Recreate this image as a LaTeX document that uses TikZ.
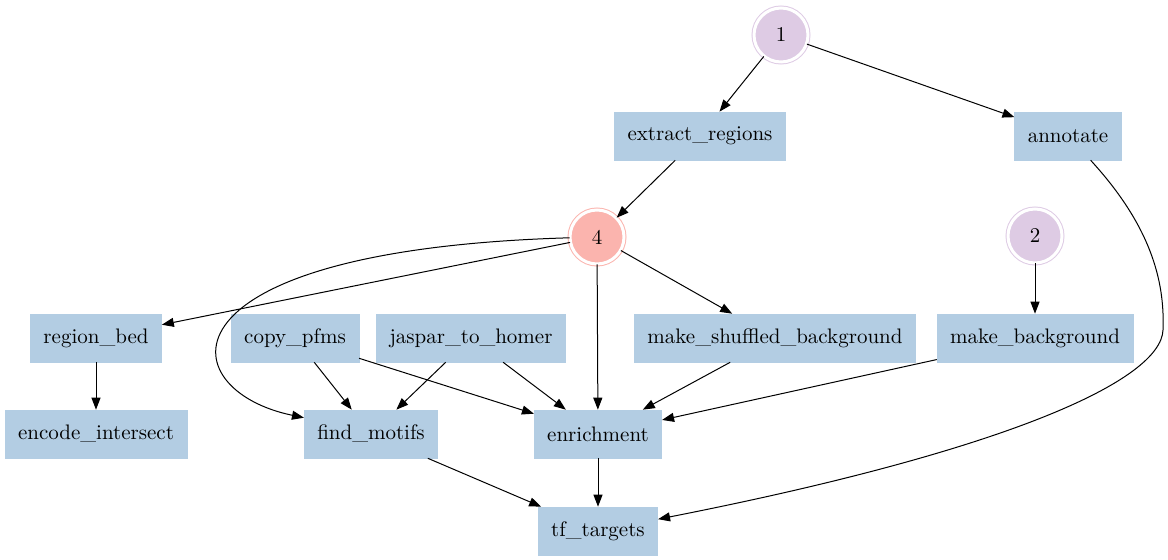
\documentclass[tikz,border=0pt]{standalone}
\usepackage{tikz}
\usetikzlibrary{arrows.meta}
\definecolor{rulefill}{HTML}{B3CDE3}
\definecolor{jobfill}{HTML}{DECBE4}
\definecolor{ckptfill}{HTML}{FBB4AE}

\begin{document}
\begin{tikzpicture}[x=0.5pt,y=-0.5pt,line width=0.5pt,
    >={Triangle[length=6pt,width=4.5pt]},
    rule/.style={rectangle,fill=rulefill,draw=rulefill,line width=0.3pt,
      minimum height=24pt,inner xsep=6.5pt,font=\fontsize{10.5}{12}\selectfont},
    job/.style={circle,fill=#1,draw=#1,double=white,double distance=1.5pt,
      line width=0.5pt,minimum size=27pt,inner sep=0pt,font=\fontsize{10.5}{12}\selectfont}]
    \useasboundingbox (0,0) rectangle (1168,560);

    % top
    \node[job=jobfill] (j1) at (781,35) {1};
    \node[rule] (extract) at (700,136) {extract\_regions};
    \node[rule] (annot) at (1068,136) {annotate};
    \node[job=ckptfill] (j4) at (597,237) {4};
    \node[job=jobfill] (j2) at (1035,236) {2};

    % middle row
    \node[rule] (regbed) at (96,338) {region\_bed};
    \node[rule] (copypfms) at (295,338) {copy\_pfms};
    \node[rule] (jaspar) at (471,338) {jaspar\_to\_homer};
    \node[rule] (shuffled) at (775,338) {make\_shuffled\_background};
    \node[rule] (mkbg) at (1035,338) {make\_background};

    % bottom
    \node[rule] (encode) at (96,434) {encode\_intersect};
    \node[rule] (findmot) at (371,434) {find\_motifs};
    \node[rule] (enrich) at (598,434) {enrichment};
    \node[rule] (tftargets) at (598,531) {tf\_targets};

    \coordinate (bend) at (1163,330);

    \draw[->] (j1) -- (extract);
    \draw[->] (j1) -- (annot);
    \draw[->] (extract) -- (j4);
    \draw[->] (annot.-47) .. controls (1150,225) and (1165,280) .. (bend)
      .. controls (1161,380) and (1010,450) .. (tftargets);
    \draw[->] (j4) -- (regbed);
    \draw[->] (j4) .. controls (150,250) and (170,390) .. ([yshift=-4pt]findmot.north west);
    \draw[->] (j4) -- (enrich);
    \draw[->] (j4) -- (shuffled);
    \draw[->] (j2) -- (mkbg);
    \draw[->] (regbed) -- (encode);
    \draw[->] (copypfms) -- (findmot);
    \draw[->] (copypfms) -- (enrich);
    \draw[->] (jaspar) -- (findmot);
    \draw[->] (jaspar) -- (enrich);
    \draw[->] (shuffled) -- (enrich);
    \draw[->] (mkbg) -- (enrich);
    \draw[->] (findmot) -- (tftargets);
    \draw[->] (enrich) -- (tftargets);
\end{tikzpicture}
\end{document}
